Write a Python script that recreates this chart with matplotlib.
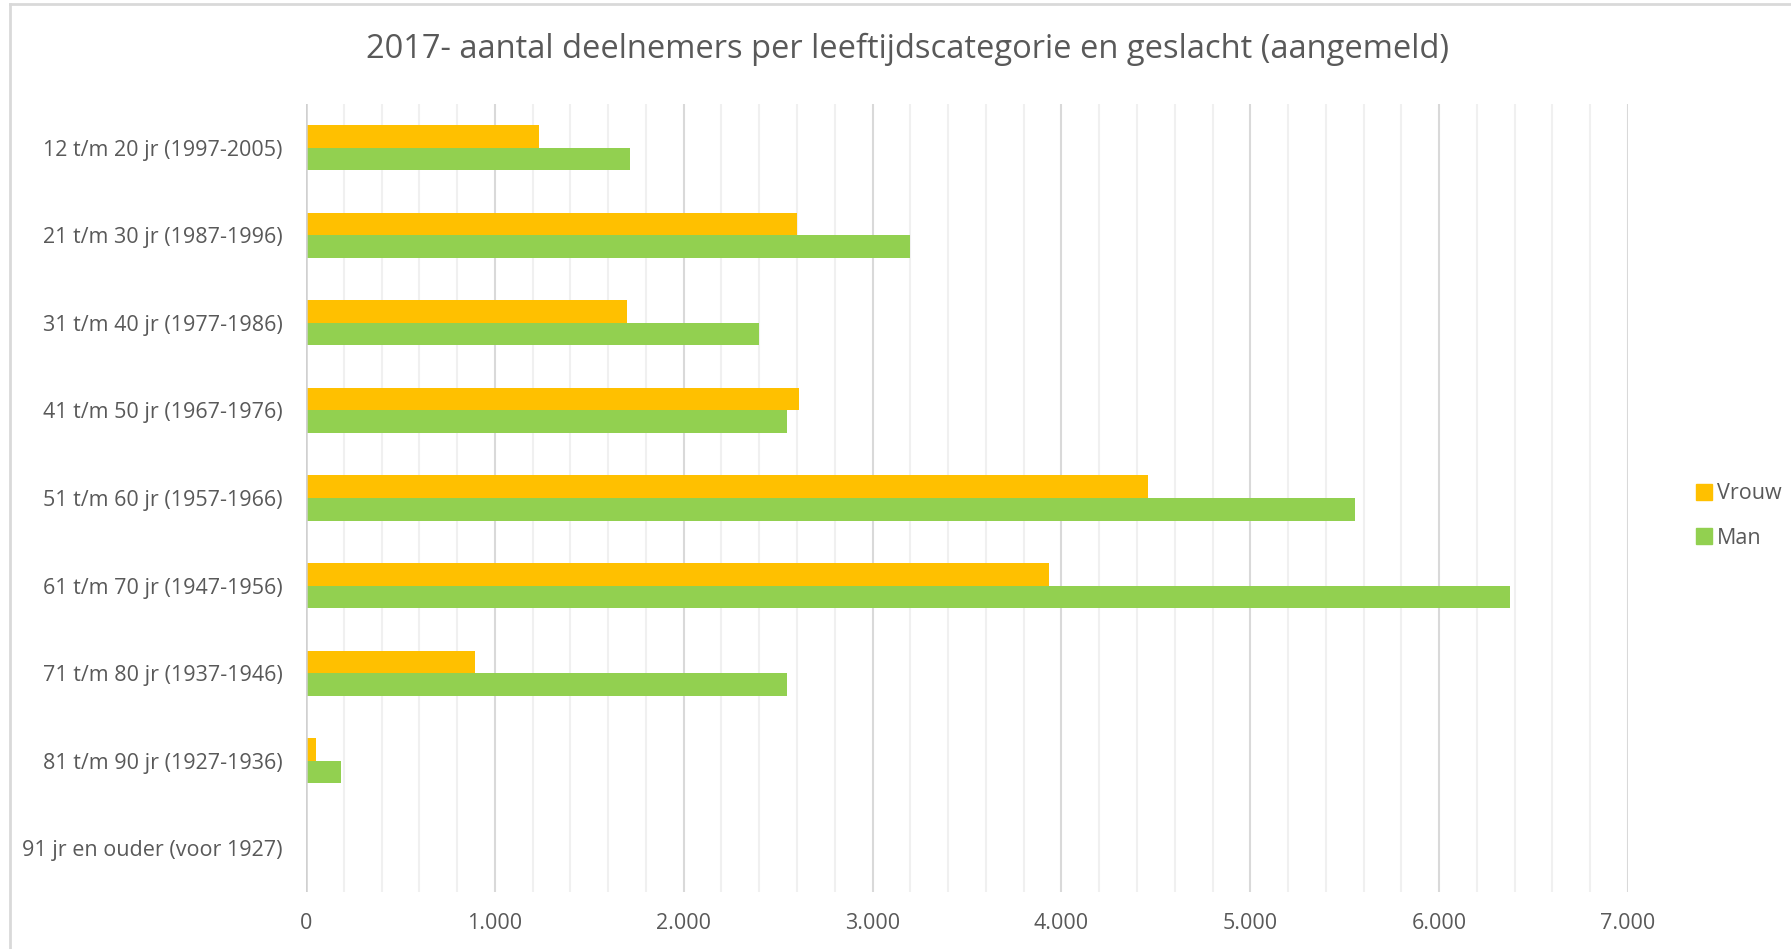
import numpy as np
import matplotlib
matplotlib.use("Agg")
import matplotlib.pyplot as plt
from matplotlib.ticker import FuncFormatter, MultipleLocator
from matplotlib.lines import Line2D

plt.rcParams['font.family'] = ['Open Sans', 'DejaVu Sans']

# data
categories = [
    "12 t/m 20 jr (1997-2005)",
    "21 t/m 30 jr (1987-1996)",
    "31 t/m 40 jr (1977-1986)",
    "41 t/m 50 jr (1967-1976)",
    "51 t/m 60 jr (1957-1966)",
    "61 t/m 70 jr (1947-1956)",
    "71 t/m 80 jr (1937-1946)",
    "81 t/m 90 jr (1927-1936)",
    "91 jr en ouder (voor 1927)",
]
vrouw = [1234, 2598, 1700, 2608, 4460, 3934, 896, 51, 0]
man = [1713, 3200, 2397, 2548, 5556, 6374, 2548, 184, 0]

title = "2017- aantal deelnemers per leeftijdscategorie en geslacht (aangemeld)"
text_col = "#595959"

fig = plt.figure(figsize=(17.91, 9.49), dpi=100)
ax = fig.add_axes([306 / 1791, 1 - 892 / 949, (1628 - 306) / 1791, (892 - 104) / 949])

y = np.arange(len(categories))
h = 0.258
ax.barh(y - h / 2, vrouw, height=h, color="#FFC000", label="Vrouw", zorder=3)
ax.barh(y + h / 2, man, height=h, color="#92D050", label="Man", zorder=3)

ax.set_xlim(0, 7000)
ax.set_ylim(len(categories) - 0.5, -0.5)
ax.set_yticks(y)
ax.set_yticklabels(categories, fontsize=15.5, color=text_col)
ax.xaxis.set_major_locator(MultipleLocator(1000))
ax.xaxis.set_minor_locator(MultipleLocator(200))
ax.xaxis.set_major_formatter(FuncFormatter(lambda v, p: f"{int(v):,}".replace(",", ".")))
ax.tick_params(axis='x', which='both', length=0, pad=15, labelsize=15.5, labelcolor=text_col)
ax.tick_params(axis='y', length=0, pad=17)
ax.grid(axis='x', which='major', color="#d9d9d9", linewidth=1.5, zorder=0)
ax.grid(axis='x', which='minor', color="#f0f0f0", linewidth=1.5, zorder=0)
for s in ax.spines.values():
    s.set_visible(False)
ax.axvline(0, color="#d0d0d0", linewidth=1.8, zorder=4)

fig.text(908 / 1791, 1 - 49 / 949, title, ha='center', va='center', fontsize=23.5, color=text_col)

handles = [Line2D([], [], marker='s', linestyle='none', markersize=11, color="#FFC000"),
           Line2D([], [], marker='s', linestyle='none', markersize=11, color="#92D050")]
fig.legend(handles, ["Vrouw", "Man"], loc='center left', bbox_to_anchor=(1674 / 1791, 1 - 516 / 949),
           frameon=False, fontsize=15.5, labelcolor=text_col, handletextpad=0.1,
           labelspacing=1.1, handlelength=1.0)

# chart frame (left and top edges visible)
fig.add_artist(Line2D([10 / 1791, 10 / 1791], [0, 1 - 4 / 949], color="#d9d9d9", linewidth=2))
fig.add_artist(Line2D([10 / 1791, 1], [1 - 4 / 949, 1 - 4 / 949], color="#d9d9d9", linewidth=2))

fig.savefig("out.png", dpi=100, facecolor="white")
